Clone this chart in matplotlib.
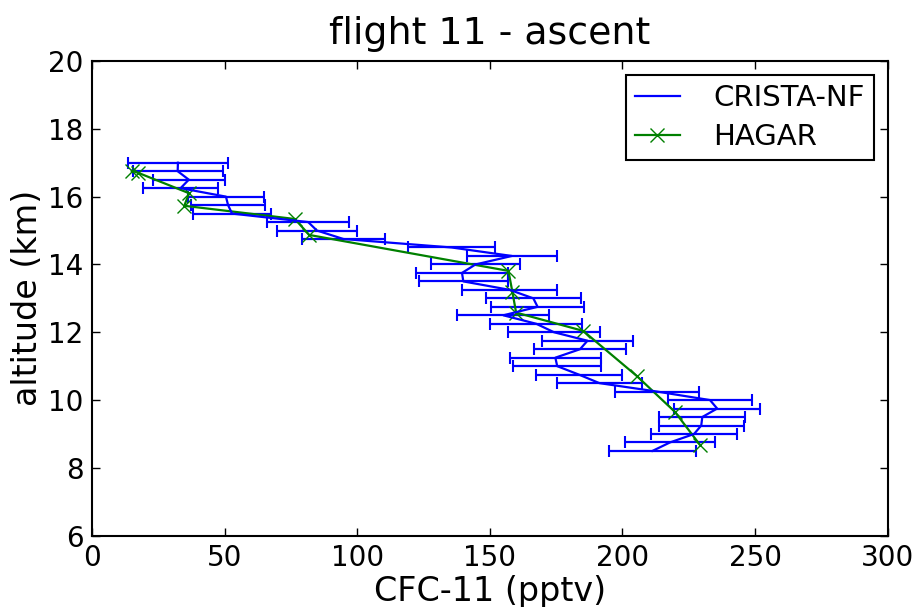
import numpy as np
import matplotlib
matplotlib.use("Agg")
import matplotlib.pyplot as plt

# CRISTA-NF profile (altitude in km, CFC-11 in pptv, +/- error)
crista_alt = [17.0, 16.75, 16.5, 16.25, 16.0, 15.75, 15.5, 15.25, 15.0, 14.75,
              14.5, 14.25, 14.0, 13.75, 13.5, 13.25, 13.0, 12.75, 12.5, 12.25,
              12.0, 11.75, 11.5, 11.25, 11.0, 10.75, 10.5, 10.25, 10.0, 9.75,
              9.5, 9.25, 9.0, 8.75, 8.5]
crista_cfc = [32.4, 32.3, 36.5, 33.4, 50.5, 51.3, 52.8, 81.5, 84.8, 94.8,
              135.6, 158.3, 144.6, 139.5, 140.0, 157.5, 166.4, 168.0, 155.1, 167.5,
              174.2, 186.8, 184.0, 174.7, 175.4, 183.6, 191.3, 213.1, 233.0, 235.7,
              230.1, 229.7, 227.0, 217.9, 211.3]
crista_err = [18.7, 17.0, 13.6, 14.0, 14.4, 14.0, 14.6, 15.4, 15.2, 15.7,
              16.4, 17.0, 16.6, 17.5, 16.7, 18.0, 17.9, 17.6, 17.3, 17.4,
              17.5, 17.3, 17.3, 17.1, 16.5, 16.2, 16.1, 15.9, 16.0, 16.2,
              16.2, 16.1, 16.2, 17.0, 16.5]

# HAGAR in-situ profile
hagar_alt = [16.76, 16.70, 16.10, 15.73, 15.34, 14.87, 13.81, 13.19, 12.58,
             12.04, 10.71, 9.65, 8.67]
hagar_cfc = [15.0, 17.5, 36.6, 34.8, 76.5, 81.9, 157.0, 158.5, 159.9,
             185.2, 205.4, 219.8, 229.3]

plt.rcParams.update({
    "font.family": "DejaVu Sans",
    "font.size": 20,
    "axes.linewidth": 1.5,
})

fig = plt.figure(figsize=(9.18, 6.07), dpi=100)
ax = fig.add_axes([92 / 918, 1 - 535.7 / 607, (887.7 - 92) / 918, (535.7 - 61) / 607])

eb = ax.errorbar(crista_cfc, crista_alt, xerr=crista_err, color="#0000ff", lw=1.6,
                 elinewidth=1.6, capsize=4.3, capthick=1.5)
hagar_line, = ax.plot(hagar_cfc, hagar_alt, color="#008000", lw=1.6, marker="x",
                      markersize=9.5, markeredgewidth=1.0)

ax.set_xlim(0, 300)
ax.set_ylim(6, 20)
ax.set_xticks([0, 50, 100, 150, 200, 250, 300])
ax.set_yticks([6, 8, 10, 12, 14, 16, 18, 20])
ax.tick_params(direction="in", top=True, right=True, length=6, width=1,
               labelsize=20, pad=6)
ax.set_xlabel("CFC-11 (pptv)", fontsize=24, labelpad=2)
ax.set_ylabel("altitude (km)", fontsize=24, labelpad=3)
ax.set_title("flight 11 - ascent", fontsize=27.3, pad=12)

leg = ax.legend([eb.lines[0], hagar_line], ["CRISTA-NF", "HAGAR"],
                loc="upper right", fontsize=21,
                fancybox=False, framealpha=1, edgecolor="black",
                handlelength=1.55, borderpad=0.3, labelspacing=0.4,
                handletextpad=1.15, borderaxespad=0.48)
leg.get_frame().set_linewidth(1.5)

fig.savefig("out.png", dpi=100)
